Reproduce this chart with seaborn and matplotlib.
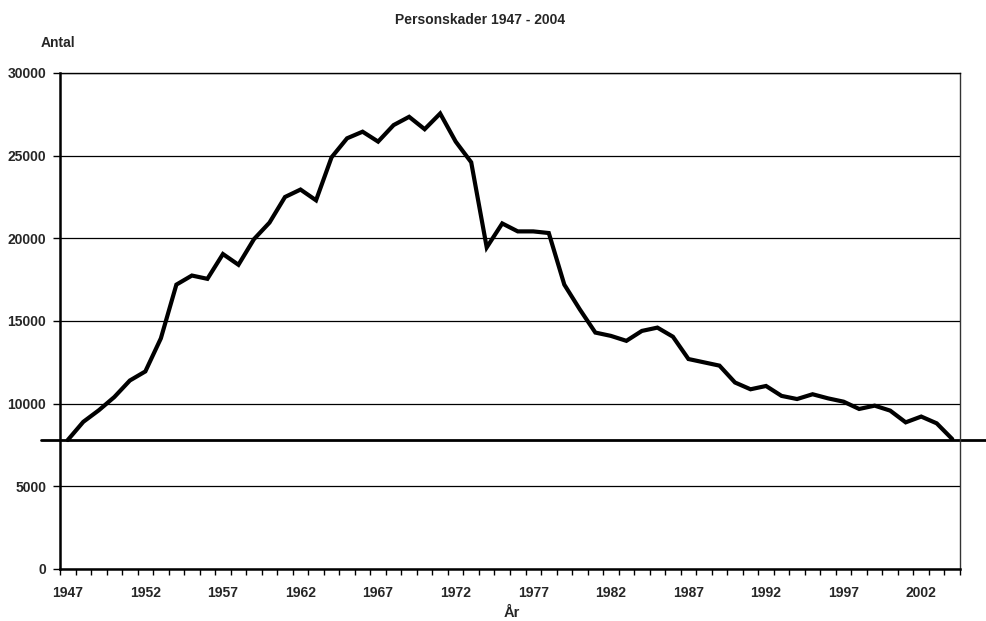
import numpy as np
import pandas as pd
import matplotlib
matplotlib.use("Agg")
import matplotlib.pyplot as plt
import seaborn as sns
from matplotlib.ticker import FixedLocator

years = list(range(1947, 2005))
injuries = [7800, 8900, 9600, 10400, 11400, 11950, 13950, 17200, 17750, 17550,
            19050, 18400, 19950, 20950, 22500, 22950, 22300, 24900, 26050, 26450,
            25850, 26850, 27350, 26600, 27550, 25850, 24600, 19450, 20900, 20420,
            20420, 20320, 17200, 15700, 14300, 14100, 13800, 14400, 14600, 14050,
            12700, 12500, 12300, 11280, 10870, 11070, 10470, 10280, 10570, 10320,
            10120, 9680, 9880, 9580, 8870, 9220, 8810, 7860]
year_labels = list(range(1947, 2005, 5))
y_ticks = [0, 5000, 10000, 15000, 20000, 25000, 30000]

title = "Personskader 1947 - 2004"
ylabel = "Antal"
xlabel = "År"

df = pd.DataFrame({"År": years, "Antal": injuries})

sns.set_style("white")
plt.rcParams['font.family'] = ['Liberation Sans', 'DejaVu Sans']
plt.rcParams['font.weight'] = 'bold'

fig = plt.figure(figsize=(9.87, 6.21), dpi=100)
ax = fig.add_axes([60/987, 1 - 569/621, 900/987, (569-73)/621])

sns.lineplot(data=df, x="År", y="Antal", ax=ax, color="black", linewidth=3,
             solid_joinstyle="miter")

ax.set_xlim(years[0] - 0.5, years[-1] + 0.5)
ax.set_ylim(0, 30000)
ax.set_yticks(y_ticks)
ax.set_yticklabels([str(v) for v in y_ticks], fontsize=10, fontweight='bold')
ax.yaxis.grid(True, color="black", linewidth=0.9)
ax.xaxis.grid(False)

ax.xaxis.set_major_locator(FixedLocator(year_labels))
ax.set_xticklabels([str(y) for y in year_labels], fontsize=10, fontweight='bold')
ax.xaxis.set_minor_locator(FixedLocator([y - 0.5 for y in years] + [years[-1] + 0.5]))
ax.tick_params(axis='x', which='major', length=0, pad=12)
ax.tick_params(axis='x', which='minor', length=4, width=1, color='black', direction='out', bottom=True)
ax.tick_params(axis='y', which='major', length=5, width=1, color='black', direction='out', left=True, pad=5)

ax.set_xlabel("")
ax.set_ylabel("")

for side in ["left", "bottom"]:
    ax.spines[side].set_color("black")
    ax.spines[side].set_linewidth(1.8)
ax.spines["right"].set_color("#333333")
ax.spines["right"].set_linewidth(1.0)
ax.spines["top"].set_color("black")
ax.spines["top"].set_linewidth(1.0)

# reference line at the 1947 level extending past the plot area
trans = matplotlib.transforms.blended_transform_factory(fig.transFigure, ax.transData)
ax.plot([41/987, 1.0], [injuries[0], injuries[0]], transform=trans, color="black",
        linewidth=2, clip_on=False)

fig.text(480/987, 1 - 20/621, title, ha="center", va="center", fontsize=10, fontweight="bold")
fig.text(57.5/987, 1 - 43/621, ylabel, ha="center", va="center", fontsize=10, fontweight="bold")
fig.text(512/987, 1 - 613/621, xlabel, ha="center", va="center", fontsize=10.5, fontweight="bold")

fig.savefig("out.png", dpi=100, facecolor="white")
